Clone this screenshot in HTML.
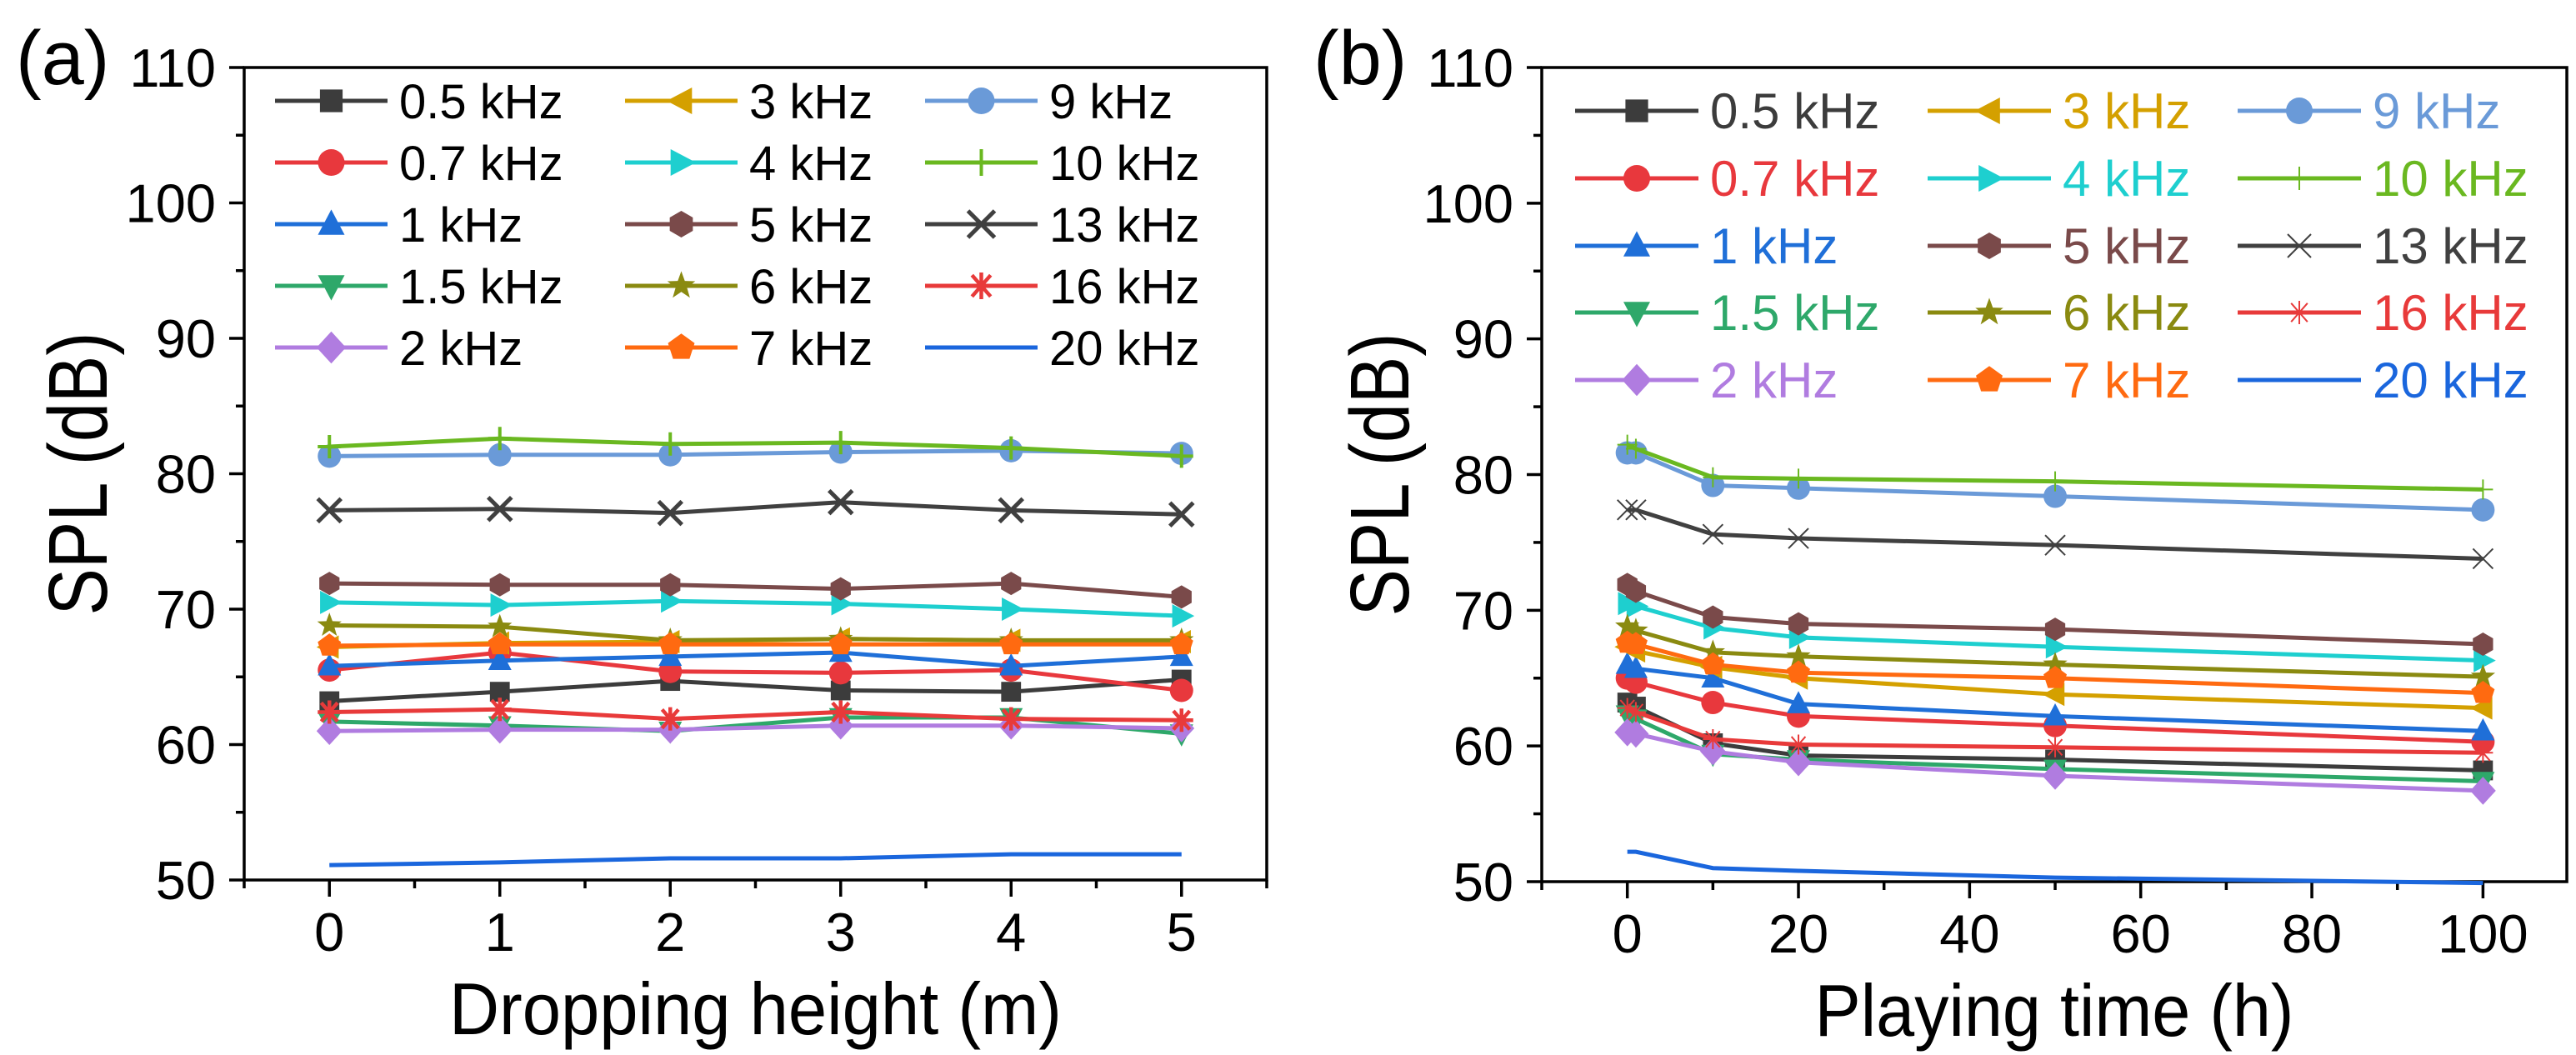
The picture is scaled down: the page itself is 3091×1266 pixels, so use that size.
<!DOCTYPE html>
<html><head><meta charset="utf-8"><style>
html,body{margin:0;padding:0;background:#fff;}
svg{display:block;font-family:"Liberation Sans",Arial,sans-serif;}
</style></head><body>
<svg id="chart" width="3091" height="1266" viewBox="0 0 3091 1266" xmlns="http://www.w3.org/2000/svg"></svg>
<script>
const seriesNames = ["0.5 kHz","0.7 kHz","1 kHz","1.5 kHz","2 kHz","3 kHz","4 kHz","5 kHz","6 kHz","7 kHz","9 kHz","10 kHz","13 kHz","16 kHz","20 kHz"];
const seriesColors = ["#3c3c3c","#e8383d","#1f6fd8","#2ea86a","#b07ce0","#d4a000","#1ecfcf","#7a4a4a","#8a8a10","#ff6a10","#6a9ad8","#6ab820","#404040","#e83a3a","#1a66dd"];
const seriesMarkers = ["square","circle","up","down","diamond","left","right","hex","star","pent","circle","plus","x","ast","none"];
const xA = [0,1,2,3,4,5];
const valuesA = [
[63.2,63.9,64.7,64.0,63.9,64.8],
[65.5,66.8,65.4,65.3,65.5,64.0],
[65.8,66.2,66.5,66.8,65.8,66.5],
[61.7,61.4,61.0,62.0,62.0,60.8],
[61.0,61.1,61.1,61.4,61.4,61.2],
[67.2,67.5,67.6,67.8,67.7,67.6],
[70.5,70.3,70.6,70.4,70.0,69.5],
[71.9,71.8,71.8,71.5,71.9,70.9],
[68.8,68.7,67.7,67.8,67.7,67.7],
[67.3,67.4,67.4,67.4,67.4,67.4],
[81.3,81.4,81.4,81.6,81.7,81.5],
[82.0,82.6,82.2,82.3,81.9,81.3],
[77.3,77.4,77.1,77.9,77.3,77.0],
[62.4,62.6,61.9,62.4,61.9,61.8],
[51.1,51.3,51.6,51.6,51.9,51.9]];
const xB = [0,1,10,20,50,100];
const valuesB = [
[63.2,62.9,60.2,59.3,59.0,58.2],
[65.0,64.7,63.2,62.2,61.5,60.3],
[66.0,65.7,65.0,63.1,62.2,61.1],
[62.3,62.0,59.4,59.0,58.3,57.4],
[61.0,60.9,59.6,58.8,57.8,56.7],
[67.3,67.0,65.8,65.0,63.8,62.8],
[70.5,70.3,68.7,68.0,67.3,66.3],
[71.9,71.4,69.5,69.0,68.6,67.5],
[68.8,68.5,66.9,66.6,66.0,65.1],
[67.6,67.5,66.0,65.4,65.0,63.9],
[81.6,81.6,79.2,79.0,78.4,77.4],
[82.2,81.9,79.8,79.7,79.5,78.9],
[77.4,77.4,75.6,75.3,74.8,73.8],
[62.8,62.5,60.5,60.1,59.9,59.5],
[52.2,52.2,51.0,50.8,50.3,49.9]];
const yTicks = [50,60,70,80,90,100,110];
const xTicksA = [0,1,2,3,4,5];
const xTicksB = [0,20,40,60,80,100];

const NS="http://www.w3.org/2000/svg";
const svg=document.getElementById('chart');
function mk(tag,attrs,parent){const e=document.createElementNS(NS,tag);for(const k in attrs)e.setAttribute(k,attrs[k]);(parent||svg).appendChild(e);return e;}

function marker(g,type,cx,cy,col,r){
  let e;
  const pts=(arr)=>arr.map(p=>(cx+p[0]*r)+","+(cy+p[1]*r)).join(" ");
  switch(type){
    case "square": e=mk('rect',{x:cx-r*0.85,y:cy-r*0.85,width:r*1.7,height:r*1.7,fill:col},g);break;
    case "circle": e=mk('circle',{cx:cx,cy:cy,r:r,fill:col},g);break;
    case "up": e=mk('polygon',{points:pts([[0,-1.1],[1,0.8],[-1,0.8]]),fill:col},g);break;
    case "down": e=mk('polygon',{points:pts([[0,1.1],[1,-0.8],[-1,-0.8]]),fill:col},g);break;
    case "left": e=mk('polygon',{points:pts([[-1.1,0],[0.8,-1],[0.8,1]]),fill:col},g);break;
    case "right": e=mk('polygon',{points:pts([[1.1,0],[-0.8,-1],[-0.8,1]]),fill:col},g);break;
    case "diamond": e=mk('polygon',{points:pts([[0,-1.2],[1.1,0],[0,1.2],[-1.1,0]]),fill:col},g);break;
    case "hex": {let a=[];for(let i=0;i<6;i++){const t=Math.PI/6+i*Math.PI/3;a.push([Math.cos(t),Math.sin(t)]);}e=mk('polygon',{points:pts(a),fill:col},g);break;}
    case "pent": {let a=[];for(let i=0;i<5;i++){const t=-Math.PI/2+i*2*Math.PI/5;a.push([Math.cos(t)*1.05,Math.sin(t)*1.05]);}e=mk('polygon',{points:pts(a),fill:col},g);break;}
    case "star": {let a=[];for(let i=0;i<10;i++){const t=-Math.PI/2+i*Math.PI/5;const rr=i%2?0.45:1.1;a.push([Math.cos(t)*rr,Math.sin(t)*rr]);}e=mk('polygon',{points:pts(a),fill:col},g);break;}
    case "plus": e=mk('path',{d:`M${cx-r} ${cy}H${cx+r}M${cx} ${cy-r}V${cy+r}`,stroke:col,'stroke-width':4,fill:'none'},g);break;
    case "x": e=mk('path',{d:`M${cx-r} ${cy-r}L${cx+r} ${cy+r}M${cx-r} ${cy+r}L${cx+r} ${cy-r}`,stroke:col,'stroke-width':5,fill:'none'},g);break;
    case "ast": e=mk('path',{d:`M${cx-r} ${cy}H${cx+r}M${cx-r*0.7} ${cy-r*0.8}L${cx+r*0.7} ${cy+r*0.8}M${cx-r*0.7} ${cy+r*0.8}L${cx+r*0.7} ${cy-r*0.8}M${cx} ${cy-r}V${cy+r}`,stroke:col,'stroke-width':4.5,fill:'none'},g);break;
    default: return null;
  }
  return e;
}

function panel(opt){
  const {name,left,right,top,bottom,xmin,xmax,xs,vals,xticks,xminor,xtitle,xtLen,label,lx,legend,colored,thinMarkers}=opt;
  const ymin=50,ymax=110;
  const X=v=>left+(v-xmin)/(xmax-xmin)*(right-left);
  const Y=v=>bottom-(v-ymin)/(ymax-ymin)*(bottom-top);
  const g=mk('g',{});
  
  
  const fr=mk('rect',{x:left,y:top,width:right-left,height:bottom-top,fill:'none',stroke:'#000','stroke-width':3.5},g);
  
  
  for(let v=50;v<=110;v+=5){
    const maj=v%10===0;
    mk('line',{x1:left-(maj?18:10),x2:left,y1:Y(v),y2:Y(v),stroke:'#000','stroke-width':3.5},g);
  }
  yTicks.forEach(v=>{
    const t=mk('text',{x:left-34,y:Y(v)+23,'text-anchor':'end','font-size':65,fill:'#000'},g);
    t.textContent=v;
    
    
  });
  xminor.forEach(v=>{mk('line',{x1:X(v),x2:X(v),y1:bottom,y2:bottom+10,stroke:'#000','stroke-width':3.5},g);});
  xticks.forEach(v=>{
    mk('line',{x1:X(v),x2:X(v),y1:bottom,y2:bottom+20,stroke:'#000','stroke-width':3.5},g);
    const t=mk('text',{x:X(v),y:bottom+85,'text-anchor':'middle','font-size':65,fill:'#000'},g);
    t.textContent=v;
    
    
  });
  const yt=mk('text',{x:0,y:0,'text-anchor':'middle','font-size':100,fill:'#000',textLength:340,lengthAdjust:'spacingAndGlyphs',transform:`translate(${lx},${(top+bottom)/2}) rotate(-90)`},g);
  yt.textContent='SPL (dB)';
  
  
  const xt=mk('text',{x:(left+right)/2,y:bottom+185,'text-anchor':'middle','font-size':88,fill:'#000',textLength:xtLen,lengthAdjust:'spacingAndGlyphs'},g);
  xt.textContent=xtitle;
  
  
  const pl=mk('text',{x:left-274,y:top+20,'font-size':92,fill:'#000'},g);
  pl.textContent=label;
  
  
  vals.forEach((arr,i)=>{
    const sg=mk('g',{},g);
    
    
    const d=arr.map((v,j)=>(j?'L':'M')+X(xs[j])+' '+Y(v)).join(' ');
    const p=mk('path',{d:d,fill:'none',stroke:seriesColors[i],'stroke-width':5},sg);
    
    
    arr.forEach((v,j)=>{
      const type=seriesMarkers[i];
      const thin=thinMarkers&&(type==='x'||type==='ast'||type==='plus');
      const m=marker(sg,type,X(xs[j]),Y(v),seriesColors[i],thin?12:14);
      if(m){
        if(thin)m.setAttribute('stroke-width',2);}
    });
  });
  const lg=mk('g',{},g);
  
  
  seriesNames.forEach((n,i)=>{
    const col=Math.floor(i/5),row=i%5;
    const x0=legend.cols[col],y0=legend.rows[row];
    const eg=mk('g',{},lg);
    
    
    mk('line',{x1:x0,x2:x0+legend.len,y1:y0,y2:y0,stroke:seriesColors[i],'stroke-width':5},eg);
    const type=seriesMarkers[i];
    const thin=thinMarkers&&(type==='x'||type==='ast'||type==='plus');
    const m=marker(eg,type,x0+legend.len/2,y0,seriesColors[i],thin?14:16);
    if(m&&thin)m.setAttribute('stroke-width',2);
    const t=mk('text',{x:x0+legend.len+14,y:y0+21,'font-size':legend.fs,fill:colored?seriesColors[i]:'#000'},eg);
    t.textContent=n;
  });
}

panel({name:'panel-a',left:293,right:1520,top:81,bottom:1056,xmin:-0.5,xmax:5.5,xs:xA,vals:valuesA,
  xticks:xTicksA,xminor:[-0.5,0.5,1.5,2.5,3.5,4.5,5.5],xtitle:'Dropping height (m)',xtLen:735,label:'(a)',lx:128,
  legend:{cols:[330,750,1110],rows:[121,195,269,343,417],len:135,fs:58},colored:false,thinMarkers:false});
panel({name:'panel-b',left:1850,right:3080,top:81,bottom:1058,xmin:-10,xmax:109.8,xs:xB,vals:valuesB,
  xticks:xTicksB,xminor:[-10,10,30,50,70,90],xtitle:'Playing time (h)',xtLen:575,label:'(b)',lx:1690,
  legend:{cols:[1890,2313,2685],rows:[133,214,295,375,456],len:148,fs:60},colored:true,thinMarkers:true});
</script>
</body></html>
